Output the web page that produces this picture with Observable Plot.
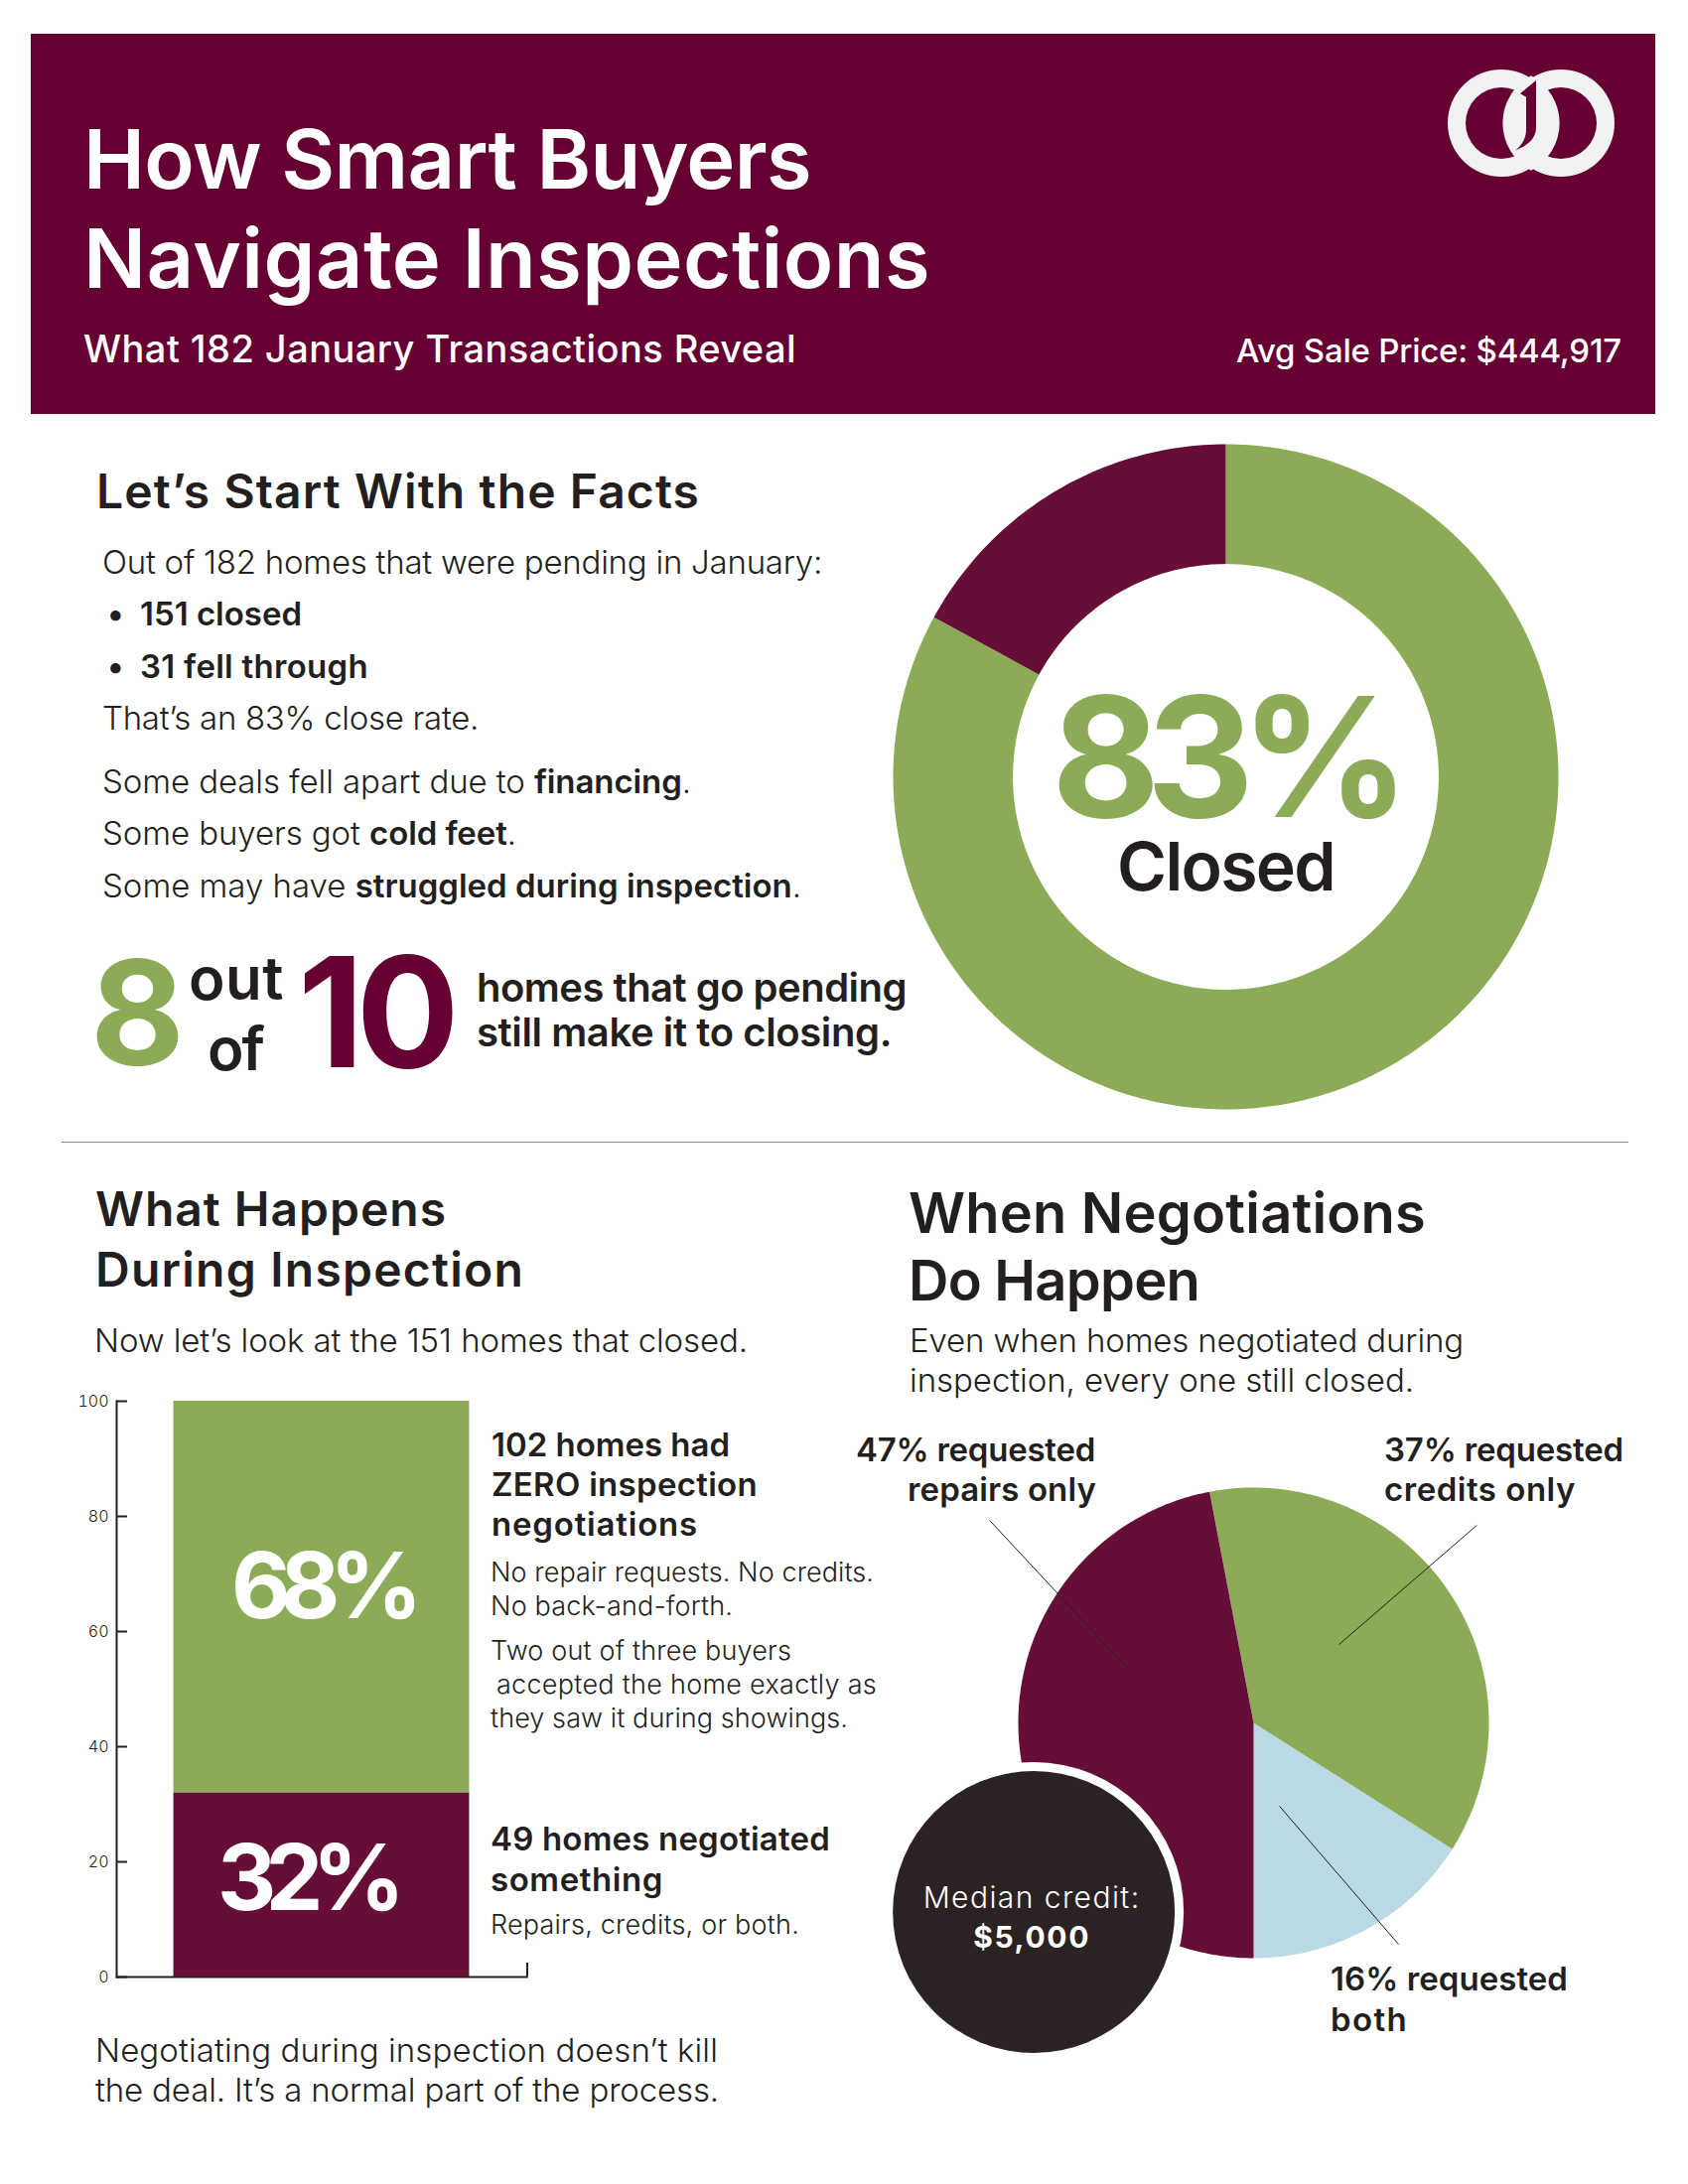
<!DOCTYPE html>
<html>
<head>
<meta charset="utf-8">
<script src="https://cdn.jsdelivr.net/npm/d3@7"></script>
<script src="https://cdn.jsdelivr.net/npm/@observablehq/plot@0.6"></script>
<style>
html,body{margin:0;padding:0;background:#fff}
#page{position:relative;width:1700px;height:2200px;overflow:hidden;font-family:Inter,sans-serif;color:#231F20;background:#fff}
.t{position:absolute;white-space:pre;line-height:1.2;transform:translateY(-0.9636em);z-index:5;font-weight:300;font-size:33px}
.t b{font-weight:600}
.s{font-weight:600}
.w{color:#fff}
#banner{position:absolute;left:31px;top:34px;width:1636px;height:383px;background:#660033}
#logo{position:absolute;left:1441px;top:50px;z-index:5}
#divider{position:absolute;left:62px;top:1150px;width:1578px;height:1px;background:#8a8a8a}
.chart{position:absolute}
.chart svg{display:block;overflow:visible;background:none}
</style>
</head>
<body>
<div id="page">
  <div id="banner"></div>
  <svg id="logo" width="200" height="150" viewBox="0 0 600 450">
    <path fill="#f0f2f1" fill-rule="evenodd" d="M213,60a162,162 0 1,0 0,324a162,162 0 1,0 0,-324ZM393,60a162,162 0 1,0 0,324a162,162 0 1,0 0,-324Z"/>
    <circle cx="213" cy="222" r="108" fill="#660033"/>
    <circle cx="393" cy="222" r="108" fill="#660033"/>
    <path fill="#f0f2f1" d="M303,79a162,162 0 0,1 0,286a162,162 0 0,1 0,-286Z"/>
    <path fill="#660033" d="M318,93L270,133L288,143L288,240C288,268 276,288 255,305C292,290 318,270 318,235Z"/>
  </svg>
  <div class="t w s" style="left:84px;top:191px;font-size:83px" data-w="733">How Smart Buyers</div>
  <div class="t w s" style="left:84px;top:291px;font-size:83px" data-w="853">Navigate Inspections</div>
  <div class="t w s" style="left:84px;top:366px;font-size:38px;font-weight:500" data-w="718">What 182 January Transactions Reveal</div>
  <div class="t w s" style="left:1245px;top:366px;font-size:33px;font-weight:500" data-w="388">Avg Sale Price: $444,917</div>

  <div class="t s" style="left:97px;top:512px;font-size:48px" data-w="608">Let’s Start With the Facts</div>
  <div class="t" style="left:103px;top:579px" data-w="725">Out of 182 homes that were pending in January:</div>
  <div class="t s" style="left:108px;top:631px">•</div>
  <div class="t s" style="left:141px;top:631px" data-w="163">151 closed</div>
  <div class="t s" style="left:108px;top:684px">•</div>
  <div class="t s" style="left:141px;top:684px" data-w="230">31 fell through</div>
  <div class="t" style="left:103px;top:736px" data-w="379">That’s an 83% close rate.</div>
  <div class="t" style="left:103px;top:800px" data-w="593">Some deals fell apart due to <b>financing</b>.</div>
  <div class="t" style="left:103px;top:852px" data-w="417">Some buyers got <b>cold feet</b>.</div>
  <div class="t" style="left:103px;top:905px" data-w="704">Some may have <b>struggled during inspection</b>.</div>

  <div class="t" style="left:91px;top:1074px;font-size:146px;font-weight:700;color:#8CAB56">8</div>
  <div class="t s" style="left:190px;top:1007px;font-size:60px" data-w="96">out</div>
  <div class="t s" style="left:209px;top:1078px;font-size:60px" data-w="56">of</div>
  <div class="t" style="left:300px;top:1075px;font-size:154px;font-weight:700;color:#660033" data-w="155">10</div>
  <div class="t s" style="left:480px;top:1010px;font-size:40px" data-w="433">homes that go pending</div>
  <div class="t s" style="left:480px;top:1055px;font-size:40px" data-w="418">still make it to closing.</div>

  <div id="divider"></div>

  <div class="t s" style="left:96px;top:1235px;font-size:48px" data-w="354">What Happens</div>
  <div class="t s" style="left:96px;top:1296px;font-size:48px" data-w="432">During Inspection</div>
  <div class="t" style="left:95px;top:1363px" data-w="658">Now let’s look at the 151 homes that closed.</div>

  <div class="t s" style="left:495px;top:1468px" data-w="240">102 homes had</div>
  <div class="t s" style="left:495px;top:1508px" data-w="268">ZERO inspection</div>
  <div class="t s" style="left:495px;top:1548px" data-w="208">negotiations</div>
  <div class="t" style="left:494px;top:1594px;font-size:27px" data-w="386">No repair requests. No credits.</div>
  <div class="t" style="left:494px;top:1628px;font-size:27px" data-w="244">No back-and-forth.</div>
  <div class="t" style="left:494px;top:1673px;font-size:27px" data-w="303">Two out of three buyers</div>
  <div class="t" style="left:500px;top:1707px;font-size:27px" data-w="383">accepted the home exactly as</div>
  <div class="t" style="left:494px;top:1741px;font-size:27px" data-w="360">they saw it during showings.</div>
  <div class="t s" style="left:494px;top:1865px" data-w="342">49 homes negotiated</div>
  <div class="t s" style="left:494px;top:1906px" data-w="174">something</div>
  <div class="t" style="left:494px;top:1949px;font-size:27px" data-w="311">Repairs, credits, or both.</div>
  <div class="t" style="left:96px;top:2078px" data-w="627">Negotiating during inspection doesn’t kill</div>
  <div class="t" style="left:96px;top:2118px" data-w="628">the deal. It’s a normal part of the process.</div>

  <div class="t s" style="left:915px;top:1243px;font-size:56px" data-w="521">When Negotiations</div>
  <div class="t s" style="left:915px;top:1311px;font-size:56px" data-w="293">Do Happen</div>
  <div class="t" style="left:916px;top:1363px" data-w="558">Even when homes negotiated during</div>
  <div class="t" style="left:916px;top:1403px" data-w="508">inspection, every one still closed.</div>

  <div class="t s" style="left:862px;top:1473px;font-size:33px" data-w="241">47% requested</div>
  <div class="t s" style="left:914px;top:1513px;font-size:33px" data-w="190">repairs only</div>
  <div class="t s" style="left:1394px;top:1473px;font-size:33px" data-w="241">37% requested</div>
  <div class="t s" style="left:1394px;top:1513px;font-size:33px" data-w="193">credits only</div>
  <div class="t s" style="left:1340px;top:2006px;font-size:33px" data-w="239">16% requested</div>
  <div class="t s" style="left:1340px;top:2047px;font-size:33px" data-w="78">both</div>

  <div class="chart" id="donut" style="left:879px;top:427px"></div>
  <div class="chart" id="bar" style="left:40px;top:1390px"></div>
  <div class="chart" id="pie" style="left:861px;top:1399px"></div>
</div>

<script>
// ---------- data ----------
const closeLabels = ["Closed", "Fell through"];
const closeValues = [151, 31];
const closeColors = ["#8CAB56", "#660E38"];

const barCategory = ["Closed homes"];
const barLabels = ["Negotiated something", "Zero negotiations"];
const barValues = [32, 68];
const barColors = ["#660E38", "#8CAB56"];
const barTexts = ["32%", "68%"];
const barTicks = [0, 20, 40, 60, 80, 100];

const pieLabels = ["Requested both", "Requested credits only", "Requested repairs only"];
const pieValues = [16, 37, 47];
const pieColors = ["#B9D9E5", "#8CAB56", "#660E38"];
// the slices run counter-clockwise from the bottom of the pie

// leader lines and the median badge, in units of the pie radius
const leaderStartX = [-1.122, 0.949, 0.110];
const leaderStartY = [0.861, 0.840, -0.354];
const leaderEndX = [-0.540, 0.363, 0.616];
const leaderEndY = [0.236, 0.333, -0.941];
const badgeX = -0.934;
const badgeY = -0.804;
const badgeTexts = ["Median credit:", "$5,000"];

const textWidths = {"83%":347,"Closed":219,"68%":182,"32%":178,"Median credit:":219,"$5,000":118};

// ---------- helpers ----------
const ink = "#231F20";
function arcPoints(fromDeg, toDeg, outer, inner) {
  const dir = toDeg >= fromDeg ? 1 : -1;
  const n = Math.max(2, Math.ceil(Math.abs(toDeg - fromDeg)));
  const pt = (deg, r) => ({x: r * Math.sin(deg * Math.PI / 180), y: r * Math.cos(deg * Math.PI / 180)});
  const out = d3.range(n + 1).map(i => pt(fromDeg + dir * i * Math.abs(toDeg - fromDeg) / n, outer));
  const back = inner > 0
    ? d3.range(n + 1).map(i => pt(toDeg - dir * i * Math.abs(toDeg - fromDeg) / n, inner))
    : [{x: 0, y: 0}];
  return out.concat(back);
}
function sliceMarks(values, colors, startDeg, dir, inner) {
  const total = d3.sum(values);
  let a = startDeg;
  return values.map((v, i) => {
    const b = a + dir * v / total * 360;
    const m = Plot.line(arcPoints(a, b, 1, inner), {x: "x", y: "y", fill: colors[i], stroke: "none", strokeWidth: 0});
    a = b;
    return m;
  });
}
const base = {margin: 0, style: {background: "none", overflow: "visible"}};

// ---------- donut ----------
const donutR = 335, donutSize = 710;
const dh = donutSize / 2 / donutR;
document.getElementById("donut").append(Plot.plot({
  ...base, width: donutSize, height: donutSize,
  x: {domain: [-dh, dh], axis: null},
  y: {domain: [-dh, dh], axis: null},
  marks: [
    ...sliceMarks(closeValues, closeColors, 0, 1, 0.64),
    Plot.text(["83%"], {x: 0, y: 0, text: d => d, dy: 40, dx: -2, lineAnchor: "bottom", fontSize: 168, fontWeight: 700, fill: "#8CAB56", fontFamily: "Inter"}),
    Plot.text([closeLabels[0]], {x: 0, y: 0, text: d => d, dy: 114, dx: 0, lineAnchor: "bottom", fontSize: 68, fontWeight: 600, fill: ink, fontFamily: "Inter"})
  ]
}));

// ---------- stacked bar ----------
const barTable = barValues.map((v, i) => ({cat: barCategory[0], label: barLabels[i], value: v, color: barColors[i], text: barTexts[i],
  mid: d3.sum(barValues.slice(0, i)) + v / 2}));
const barLabelStyle = {x: "cat", y: "mid", text: "text", lineAnchor: "bottom", fontSize: 92, fontWeight: 700, fill: "#fff", fontFamily: "Inter"};
document.getElementById("bar").append(Plot.plot({
  width: 500, height: 620,
  marginLeft: 77, marginRight: 10, marginTop: 21, marginBottom: 19,
  style: {background: "none", overflow: "visible"},
  x: {domain: barCategory, padding: 0.162, axis: null, round: false},
  y: {domain: [0, 100], axis: null},
  marks: [
    Plot.frame({anchor: "left", stroke: ink, strokeWidth: 2}),
    Plot.frame({anchor: "bottom", stroke: ink, strokeWidth: 2}),
    Plot.ruleX(barCategory, {x: d => d, y1: 0, y2: 2.4, dx: 207, stroke: ink, strokeWidth: 2}),
    Plot.barY(barTable, {x: "cat", y: "value", fill: "color", order: null}),
    Plot.axisY({ticks: barTicks, anchor: "left", tickSize: -11, tickPadding: 19, fontSize: 16, fontWeight: 300, stroke: ink, strokeWidth: 2, fill: ink, label: null, fontFamily: "Inter"}),
    Plot.text(barTable.slice(0, 1), {...barLabelStyle, dx: -16, dy: 25}),
    Plot.text(barTable.slice(1), {...barLabelStyle, dx: 0, dy: 21})
  ]
}));

// ---------- pie ----------
const pieR = 237, pieW = 800, pieH = 700, pieCx = 401, pieCy = 336;
const leaders = leaderStartX.map((v, i) => ({x1: v, y1: leaderStartY[i], x2: leaderEndX[i], y2: leaderEndY[i]}));
document.getElementById("pie").append(Plot.plot({
  ...base, width: pieW, height: pieH,
  x: {domain: [-pieCx / pieR, (pieW - pieCx) / pieR], axis: null},
  y: {domain: [(pieCy - pieH) / pieR, pieCy / pieR], axis: null},
  marks: [
    ...sliceMarks(pieValues, pieColors, 180, -1, 0),
    Plot.link(leaders, {x1: "x1", y1: "y1", x2: "x2", y2: "y2", stroke: ink, strokeWidth: 1}),
    Plot.dot([0], {x: badgeX, y: badgeY, r: 151, fill: "#fff"}),
    Plot.dot([0], {x: badgeX, y: badgeY, r: 142, fill: "#2B2224"}),
    Plot.text([badgeTexts[0]], {x: badgeX, y: badgeY, text: d => d, dx: -2, dy: -4, lineAnchor: "bottom", fontSize: 30, fontWeight: 300, fill: "#fff", fontFamily: "Inter"}),
    Plot.text([badgeTexts[1]], {x: badgeX, y: badgeY, text: d => d, dx: -2, dy: 36, lineAnchor: "bottom", fontSize: 30, fontWeight: 700, fill: "#fff", fontFamily: "Inter"})
  ]
}));

// ---------- fit type widths (the installed face differs from the original's) ----------
document.querySelectorAll(".t[data-w]").forEach(el => {
  const w = el.getBoundingClientRect().width, n = el.textContent.length;
  el.style.letterSpacing = ((+el.dataset.w - w) / n).toFixed(3) + "px";
});
document.querySelectorAll(".chart svg text").forEach(t => {
  const target = textWidths[t.textContent];
  if (target) {
    const w = t.getComputedTextLength();
    t.style.letterSpacing = ((target - w) / t.textContent.length).toFixed(3) + "px";
  }
});
</script>
</body>
</html>
